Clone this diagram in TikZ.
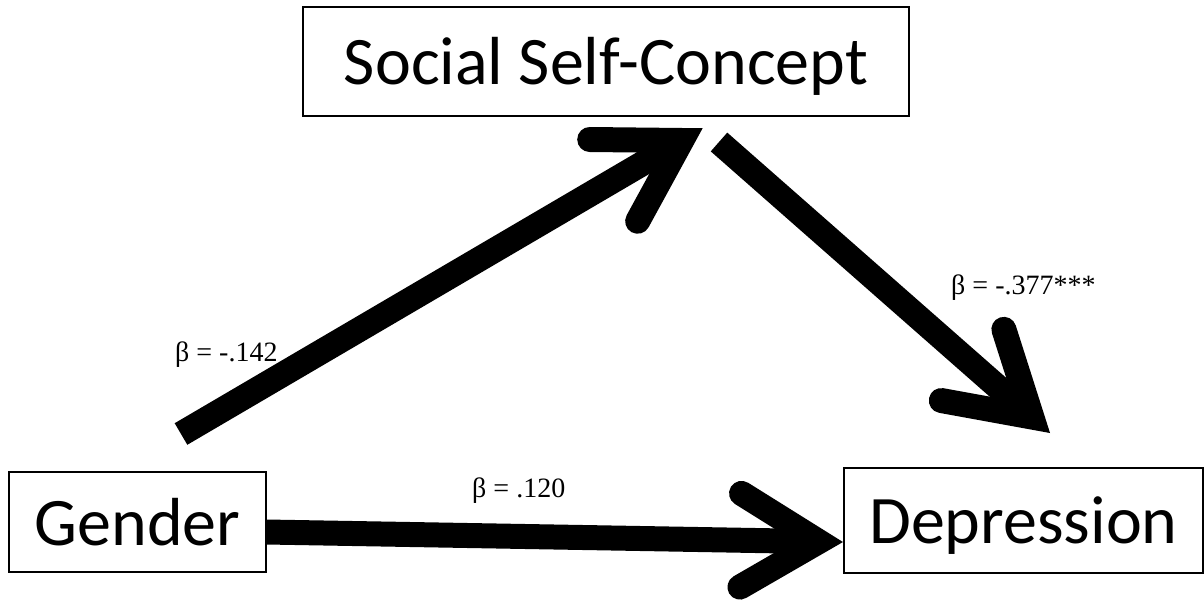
\documentclass[tikz,border=0pt]{standalone}
\usepackage{fontspec}
\setmainfont{Carlito}
\newfontfamily\labfont{Liberation Serif}
\usetikzlibrary{calc}
\tikzset{
  varbox/.style={draw=black, line width=2.2pt, inner sep=0pt, font=\fontsize{68}{70}\selectfont,
    text height=46pt, text depth=0pt},
  shaft/.style={line width=25pt, line cap=butt},
  head/.style={line width=25pt, line cap=round, line join=miter},
  beta/.style={anchor=base west, inner sep=0pt, font=\labfont\fontsize{28}{30}\selectfont}
}
\begin{document}
\begin{tikzpicture}[x=1pt, y=-1pt]
\useasboundingbox (0,0) rectangle (1204,601);
% boxes
\node[varbox, minimum width=606pt, minimum height=109pt] (ssc) at (606,61.5) {Social Self-Concept};
\node[varbox, minimum width=257pt, minimum height=100pt] (gen) at (137.5,522) {Gender};
\node[varbox, minimum width=359pt, minimum height=105pt] (dep) at (1023.5,520.5) {Depression};
% arrow coordinates
\coordinate (s1) at (181,434);
\coordinate (a1) at (681.7,140.5);
\coordinate (s2) at (719,142);
\coordinate (a2) at (1031.8,417);
\coordinate (s3) at (266,532);
\coordinate (a3) at (818.7,541.6);
% Gender -> Social Self-Concept
\draw[shaft] (s1) -- (a1);
\draw[head] ($(a1)!92pt!31:(s1)$) -- (a1) -- ($(a1)!92pt!-31:(s1)$);
% Social Self-Concept -> Depression
\draw[shaft] (s2) -- (a2);
\draw[head] ($(a2)!92pt!31:(s2)$) -- (a2) -- ($(a2)!92pt!-31:(s2)$);
% Gender -> Depression
\draw[shaft] (s3) -- (a3);
\draw[head] ($(a3)!91pt!31:(s3)$) -- (a3) -- ($(a3)!91pt!-31:(s3)$);
% labels
\node[beta] (l1) at (175,362) {β = -.142};
\node[beta] (l2) at (472,497) {β = .120};
\node[beta] (l3) at (951,295) {β = -.377***};
\end{tikzpicture}
\end{document}
